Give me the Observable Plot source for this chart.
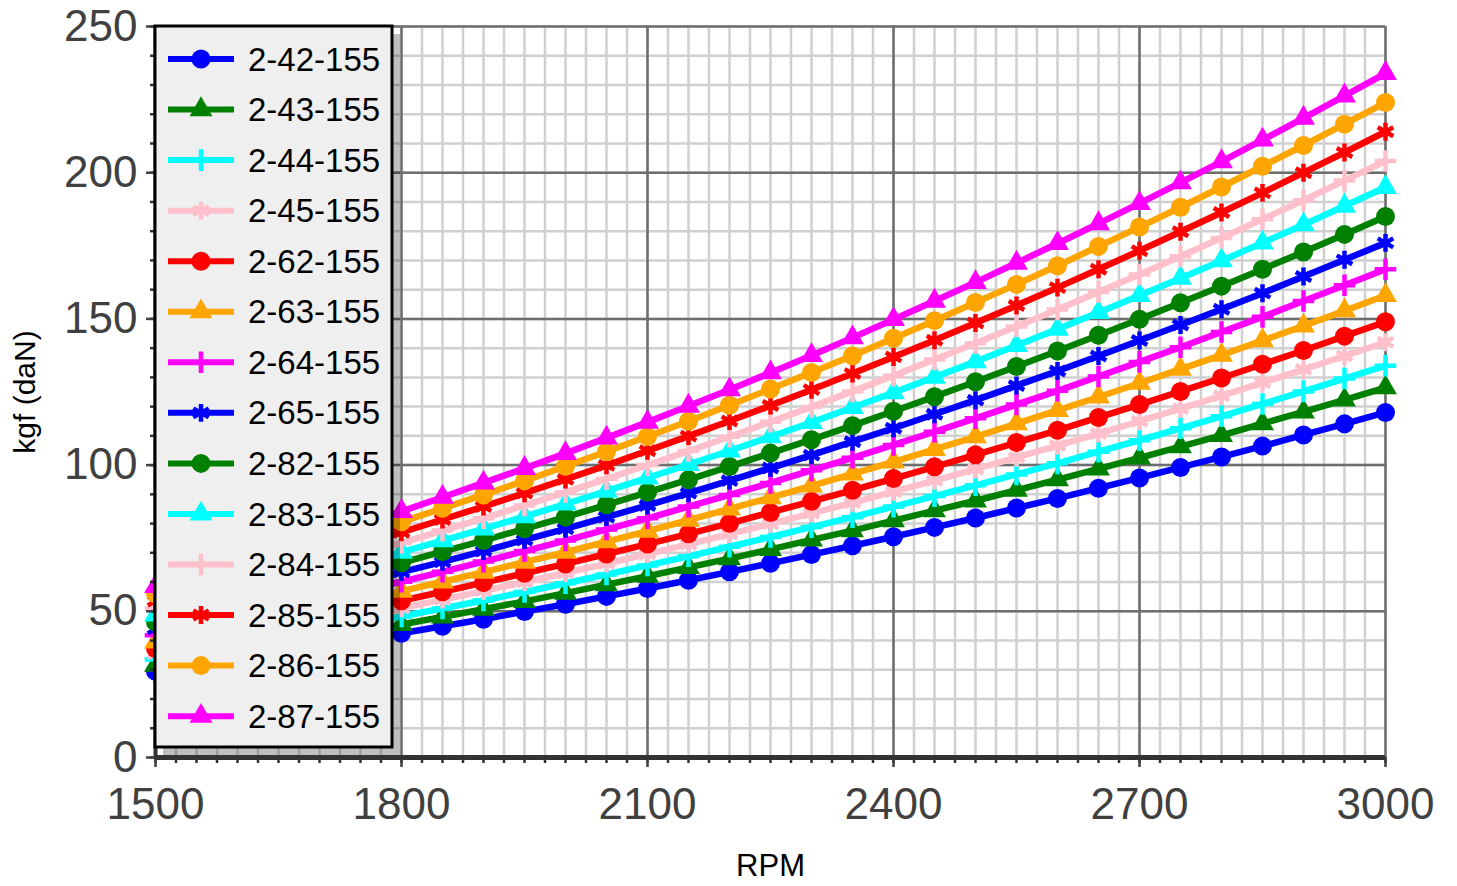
<!DOCTYPE html>
<html><head><meta charset="utf-8">
<script src="https://cdn.jsdelivr.net/npm/d3@7"></script>
<script src="https://cdn.jsdelivr.net/npm/@observablehq/plot@0.6"></script>
<style>body{margin:0;background:#fff;font-family:"Liberation Sans",Arial,sans-serif}</style>
</head><body><div id="chart"></div>
<script>
const rpm = [1500,1550,1600,1650,1700,1750,1800,1850,1900,1950,2000,2050,2100,2150,2200,2250,2300,2350,2400,2450,2500,2550,2600,2650,2700,2750,2800,2850,2900,2950,3000];

const s_2_42_155 = [29.5,31.5,33.6,35.7,37.9,40.2,42.5,44.9,47.3,49.9,52.4,55.1,57.8,60.6,63.5,66.4,69.4,72.4,75.5,78.7,81.9,85.3,88.6,92.1,95.6,99.2,102.8,106.5,110.3,114.1,118];
const s_2_43_155 = [31.6,33.8,36.0,38.3,40.6,43.0,45.5,48.1,50.7,53.4,56.2,59.1,62.0,65.0,68.0,71.2,74.4,77.6,81.0,84.4,87.8,91.4,95.0,98.7,102.5,106.3,110.2,114.2,118.2,122.3,126.5];
const s_2_44_155 = [33.5,35.8,38.1,40.5,43.0,45.6,48.2,51.0,53.7,56.6,59.6,62.6,65.7,68.8,72.1,75.4,78.8,82.2,85.8,89.4,93.1,96.8,100.6,104.6,108.5,112.6,116.7,120.9,125.2,129.6,134];
const s_2_45_155 = [35.5,37.9,40.4,43.0,45.6,48.3,51.1,54.0,57.0,60.0,63.1,66.3,69.6,72.9,76.4,79.9,83.5,87.1,90.9,94.7,98.6,102.6,106.7,110.8,115.0,119.3,123.7,128.2,132.7,137.3,142];
const s_2_62_155 = [37.3,39.8,42.4,45.1,47.8,50.7,53.6,56.7,59.8,63.0,66.2,69.6,73.0,76.5,80.1,83.8,87.6,91.4,95.4,99.4,103.5,107.7,111.9,116.3,120.7,125.2,129.8,134.5,139.2,144.1,149];
const s_2_63_155 = [39.5,42.2,44.9,47.8,50.7,53.8,56.9,60.1,63.4,66.8,70.2,73.8,77.4,81.2,85.0,88.9,92.9,97.0,101.1,105.4,109.7,114.2,118.7,123.3,128.0,132.8,137.6,142.6,147.6,152.8,158];
const s_2_64_155 = [41.8,44.6,47.5,50.5,53.6,56.8,60.1,63.5,67.0,70.6,74.2,78.0,81.8,85.8,89.8,93.9,98.2,102.5,106.9,111.4,116.0,120.7,125.4,130.3,135.3,140.3,145.5,150.7,156.1,161.5,167];
const s_2_65_155 = [44.0,47.0,50.1,53.2,56.5,59.9,63.4,66.9,70.6,74.4,78.2,82.2,86.2,90.4,94.7,99.0,103.4,108.0,112.6,117.4,122.2,127.2,132.2,137.3,142.6,147.9,153.3,158.8,164.5,170.2,176];
const s_2_82_155 = [46.3,49.4,52.6,56.0,59.4,63.0,66.6,70.4,74.2,78.2,82.2,86.4,90.7,95.0,99.5,104.1,108.7,113.5,118.4,123.4,128.5,133.7,139.0,144.4,149.9,155.5,161.2,167.0,172.9,178.9,185];
const s_2_83_155 = [48.8,52.1,55.5,59.0,62.6,66.4,70.2,74.2,78.2,82.4,86.7,91.1,95.6,100.2,104.9,109.7,114.6,119.7,124.8,130.1,135.4,140.9,146.5,152.2,158.0,163.9,169.9,176.0,182.2,188.6,195];
const s_2_84_155 = [51.0,54.5,58.0,61.7,65.5,69.4,73.4,77.6,81.8,86.2,90.7,95.3,100.0,104.8,109.7,114.8,119.9,125.2,130.6,136.1,141.7,147.4,153.2,159.2,165.2,171.4,177.7,184.1,190.6,197.3,204];
const s_2_85_155 = [53.5,57.1,60.9,64.7,68.7,72.8,77.0,81.4,85.8,90.4,95.1,99.9,104.9,109.9,115.1,120.4,125.8,131.3,137.0,142.7,148.6,154.6,160.7,167.0,173.3,179.8,186.4,193.1,200.0,206.9,214];
const s_2_86_155 = [56.0,59.8,63.7,67.8,71.9,76.2,80.6,85.2,89.8,94.6,99.6,104.6,109.8,115.0,120.5,126.0,131.7,137.4,143.4,149.4,155.6,161.8,168.2,174.8,181.4,188.2,195.1,202.2,209.3,216.6,224];
const s_2_87_155 = [58.5,62.5,66.6,70.8,75.1,79.6,84.2,89.0,93.9,98.9,104.0,109.3,114.7,120.2,125.8,131.6,137.5,143.6,149.8,156.1,162.5,169.1,175.8,182.6,189.5,196.6,203.8,211.2,218.7,226.3,234];

const seriesNames = ["2-42-155","2-43-155","2-44-155","2-45-155","2-62-155","2-63-155","2-64-155","2-65-155","2-82-155","2-83-155","2-84-155","2-85-155","2-86-155","2-87-155"];
const seriesColors = ["#0000ff","#008000","#00ffff","#ffc0cb","#ff0000","#ffa500","#ff00ff","#0000ff","#008000","#00ffff","#ffc0cb","#ff0000","#ffa500","#ff00ff"];
const seriesSymbols = ["circle","triangle","plus","asterisk","circle","triangle","plus","asterisk","circle","triangle","plus","asterisk","circle","triangle"];
const seriesValues = [s_2_42_155,s_2_43_155,s_2_44_155,s_2_45_155,s_2_62_155,s_2_63_155,s_2_64_155,s_2_65_155,s_2_82_155,s_2_83_155,s_2_84_155,s_2_85_155,s_2_86_155,s_2_87_155];

const xTicks = [1500,1800,2100,2400,2700,3000];
const yTicks = [0,50,100,150,200,250];
const xLabel = "RPM";
const yLabel = "kgf (daN)";

const xMinor = d3.range(1500, 3001, 25);
const yMinor = d3.range(0, 251, 10);

const FONT = '"Liberation Sans", Arial, sans-serif';
const symStyle = {
  circle:   {r: 9.5, filled: true},
  triangle: {r: 8.5, filled: true},
  plus:     {r: 7,   filled: false},
  asterisk: {r: 8.5, filled: false}
};
const d3Sym = {circle: d3.symbolCircle, triangle: d3.symbolTriangle, plus: d3.symbolPlus, asterisk: d3.symbolAsterisk};

const seriesMarks = seriesNames.flatMap((name, i) => {
  const pts = rpm.map((r, j) => ({rpm: r, kgf: seriesValues[i][j]}));
  const c = seriesColors[i], s = seriesSymbols[i], st = symStyle[s];
  return [
    Plot.line(pts, {x: "rpm", y: "kgf", stroke: c, strokeWidth: 6.5}),
    Plot.dot(pts, st.filled
      ? {x: "rpm", y: "kgf", symbol: () => s, r: st.r, fill: c, stroke: "none"}
      : {x: "rpm", y: "kgf", symbol: () => s, r: st.r, fill: "none", stroke: c, strokeWidth: 4.5})
  ];
});

const plot = Plot.plot({
  width: 1457,
  height: 886,
  marginLeft: 155,
  marginRight: 72,
  marginTop: 26,
  marginBottom: 129,
  style: {fontFamily: FONT, background: "#fff"},
  x: {domain: [1500, 3000]},
  y: {domain: [0, 250]},
  symbol: {type: "identity"},
  marks: [
    Plot.gridX(xMinor, {stroke: "#d0d0d0", strokeOpacity: 1, strokeWidth: 2.5}),
    Plot.gridY(yMinor, {stroke: "#d0d0d0", strokeOpacity: 1, strokeWidth: 2.5}),
    Plot.gridX(xTicks, {stroke: "#6e6e6e", strokeOpacity: 1, strokeWidth: 2.5}),
    Plot.gridY(yTicks, {stroke: "#6e6e6e", strokeOpacity: 1, strokeWidth: 2.5}),
    ...seriesMarks,
    Plot.axisX(xMinor, {tickSize: 6, tickFormat: () => "", stroke: "#333", strokeWidth: 2.5, label: null}),
    Plot.axisY(yMinor, {tickSize: 5, tickFormat: () => "", stroke: "#333", strokeWidth: 2.5, label: null}),
    Plot.axisX(xTicks, {tickSize: 10, tickPadding: 20, fontSize: 44, tickFormat: d => String(d), color: "#404040", strokeWidth: 2.5, label: null}),
    Plot.axisY(yTicks, {tickSize: 9, tickPadding: 9, fontSize: 44, tickFormat: d => String(d), color: "#404040", strokeWidth: 2.5, label: null}),
    Plot.ruleY([0], {stroke: "#333", strokeWidth: 5}),
    Plot.ruleX([1500], {stroke: "#333", strokeWidth: 4}),
    Plot.text([xLabel], {frameAnchor: "bottom", dy: 109, fontSize: 31, fill: "#000", textAnchor: "middle", lineAnchor: "middle"}),
    Plot.text([yLabel], {frameAnchor: "left", dx: -130, rotate: -90, fontSize: 30, fill: "#000", textAnchor: "middle", lineAnchor: "middle"})
  ]
});

document.getElementById("chart").appendChild(plot);

// Legend overlay, positioned from the scales
const sx = plot.scale("x"), sy = plot.scale("y");
const lgLeft = sx.apply(1500), lgTop = sy.apply(250), lgBottom = sy.apply(0);
const boxW = 237, boxH = (lgBottom - lgTop) - 10;
const svgSel = d3.select(plot);
const lg = svgSel.append("g").attr("class", "legend");
lg.append("rect").attr("x", lgLeft + 8).attr("y", lgTop + 8).attr("width", boxW).attr("height", boxH)
  .attr("fill", "#000").attr("fill-opacity", 0.25);
lg.append("rect").attr("x", lgLeft).attr("y", lgTop).attr("width", boxW).attr("height", boxH)
  .attr("fill", "#efefef").attr("stroke", "#000").attr("stroke-width", 3);
seriesNames.forEach((name, i) => {
  const yy = lgTop + 33 + i * 50.55;
  const c = seriesColors[i], s = seriesSymbols[i], st = symStyle[s];
  const g = lg.append("g").attr("transform", `translate(${lgLeft},${yy})`);
  g.append("line").attr("x1", 13).attr("x2", 79).attr("y1", 0).attr("y2", 0)
    .attr("stroke", c).attr("stroke-width", 6);
  g.append("path").attr("transform", "translate(46,0)")
    .attr("d", d3.symbol(d3Sym[s], Math.PI * st.r * st.r)())
    .attr("fill", st.filled ? c : "none")
    .attr("stroke", st.filled ? "none" : c)
    .attr("stroke-width", st.filled ? 0 : 4.5);
  g.append("text").attr("x", 93).attr("y", 0).attr("dy", "0.35em")
    .attr("text-anchor", "start")
    .attr("font-size", 33).attr("fill", "#000")
    .attr("font-family", FONT).text(name);
});
</script>
</body></html>
